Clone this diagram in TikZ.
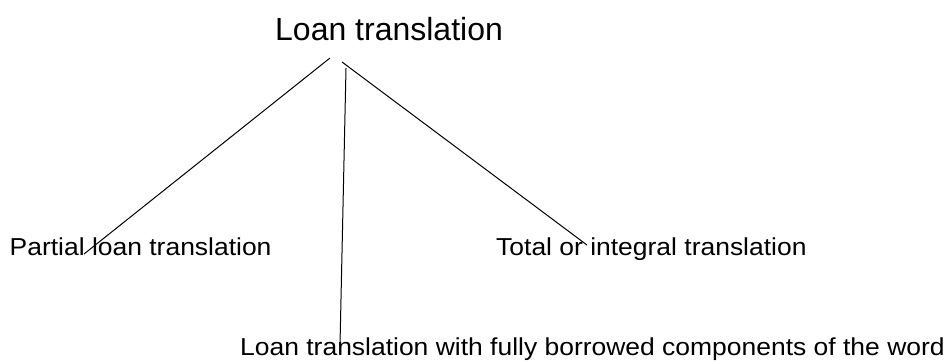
\documentclass[tikz,border=0pt]{standalone}
\usepackage{fontspec}
\setmainfont{Liberation Sans}
\newfontfamily\widesans[FakeStretch=1.08]{Liberation Sans}
\begin{document}
\begin{tikzpicture}[x=1pt,y=-1pt,
  headlabel/.style={anchor=base west,inner sep=0pt,font=\fontsize{32}{36}\selectfont},
  leaflabel/.style={anchor=base west,inner sep=0pt,font=\widesans\fontsize{24.5}{28}\selectfont},
  branch/.style={line width=1pt,black}]
  \useasboundingbox[fill=white] (0,0) rectangle (952,360);

  % root and leaves
  \node[headlabel] (root) at (275,40.7) {Loan translation};
  \node[leaflabel] (partial) at (9.5,255) {Partial loan translation};
  \node[leaflabel] (total) at (496,255) {Total or integral translation};
  \node[leaflabel] (full) at (240,355.8) {Loan translation with fully borrowed components of the word};

  % branch end points
  \coordinate (r1) at (330,58);
  \coordinate (r2) at (342,62);
  \coordinate (r3) at (346,68);
  \coordinate (p1) at (84,254);
  \coordinate (t1) at (587,245);
  \coordinate (f1) at (340,345);

  \draw[branch] (r1) -- (p1);
  \draw[branch] (r2) -- (t1);
  \draw[branch] (r3) -- (f1);
\end{tikzpicture}
\end{document}
